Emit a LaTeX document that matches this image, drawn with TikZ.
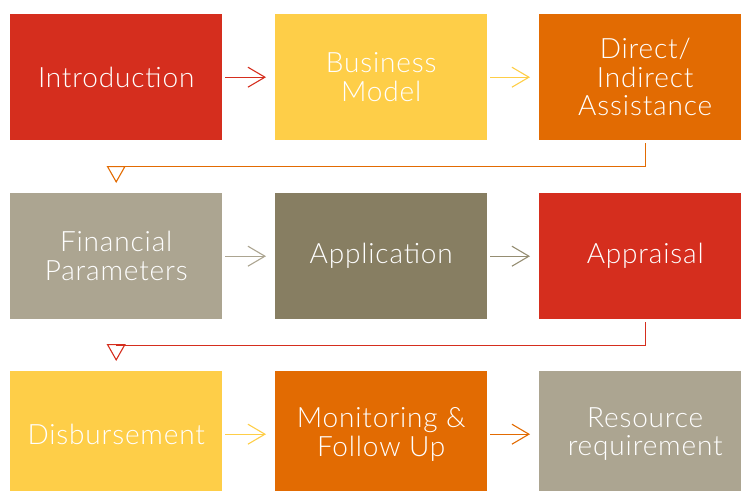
\documentclass[tikz,border=0pt]{standalone}
\usepackage{fontspec}
\setmainfont{Lato Light}[LetterSpace=3]
\usetikzlibrary{arrows.meta}
\definecolor{cred}{HTML}{D52E1E}
\definecolor{cyellow}{HTML}{FECE48}
\definecolor{corange}{HTML}{E26B02}
\definecolor{cbeige}{HTML}{ACA591}
\definecolor{colive}{HTML}{877E62}
\definecolor{coliveline}{HTML}{958D72}
\begin{document}
\begin{tikzpicture}[x=1pt,y=-1pt,
  box/.style={rectangle, minimum width=212pt, minimum height=126pt, inner sep=0pt,
    anchor=north west, align=center, text=white,
    font=\fontsize{28}{28.7}\selectfont},
  harrow/.style={line width=1.1pt, -{Straight Barb[length=17pt,width=20pt,line width=1.1pt]}},
  elbow/.style={line width=1.1pt, -{Triangle[open,length=17pt,width=19pt,line width=1.1pt]}}]
\useasboundingbox (0,0) rectangle (741,490);
\clip (0,0) rectangle (741,490);
\node[box, fill=cred]    (intro) at (10,14)  {Introduction};
\node[box, fill=cyellow] (bm)    at (275,14) {Business\\Model};
\node[box, fill=corange] (dia)   at (539,14) {Direct/\\Indirect\\Assistance};
\node[box, fill=cbeige]  (fin)   at (10,193)  {Financial\\Parameters};
\node[box, fill=colive]  (app)   at (275,193) {Application};
\node[box, fill=cred]    (apr)   at (539,193) {Appraisal};
\node[box, fill=cyellow] (dis)   at (10,371)  {Disbursement};
\node[box, fill=corange] (mon)   at (275,371) {Monitoring \&\\Follow Up};
\node[box, fill=cbeige]  (res)   at (539,371) {Resource\\requirement};
\draw[harrow, cred]       ([xshift=3pt]intro.east) -- ([xshift=-9pt]bm.west);
\draw[harrow, cyellow]    ([xshift=3pt]bm.east)    -- ([xshift=-9pt]dia.west);
\draw[harrow, cbeige]     ([xshift=3pt]fin.east)   -- ([xshift=-9pt]app.west);
\draw[harrow, coliveline] ([xshift=3pt]app.east)   -- ([xshift=-9pt]apr.west);
\draw[harrow, cyellow]    ([xshift=3pt]dis.east)   -- ([xshift=-9pt]mon.west);
\draw[harrow, corange]    ([xshift=3pt]mon.east)   -- ([xshift=-9pt]res.west);
\draw[elbow, corange] ([yshift=-3pt]dia.south) -- ([yshift=-26pt]dia.south) -| ([yshift=10pt]fin.north);
\draw[elbow, cred]    ([yshift=-3pt]apr.south) -- ([yshift=-26pt]apr.south) -| ([yshift=10pt]dis.north);
\end{tikzpicture}
\end{document}
